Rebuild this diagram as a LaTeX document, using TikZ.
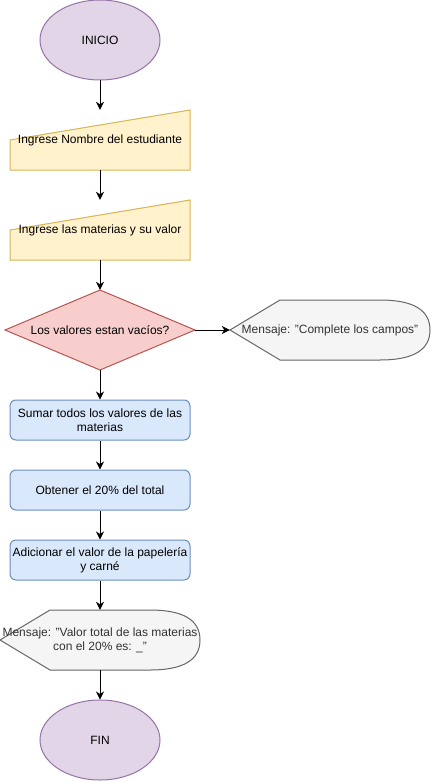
\documentclass[tikz,border=0pt]{standalone}
\usepackage{fontspec}
\setmainfont{Liberation Sans}
\usetikzlibrary{shapes.geometric,arrows.meta}

\definecolor{termfill}{HTML}{E1D5E7}
\definecolor{termline}{HTML}{9673A6}
\definecolor{infill}{HTML}{FFF2CC}
\definecolor{inline}{HTML}{D6B656}
\definecolor{decfill}{HTML}{F8CECC}
\definecolor{decline}{HTML}{B85450}
\definecolor{procfill}{HTML}{DAE8FC}
\definecolor{procline}{HTML}{6C8EBF}
\definecolor{dispfill}{HTML}{F5F5F5}
\definecolor{displine}{HTML}{666666}
\definecolor{disptext}{HTML}{333333}

\begin{document}
\begin{tikzpicture}[x=1pt,y=-1pt,
  lbl/.style={font=\fontsize{12}{14}\selectfont, align=center, inner sep=0pt},
  term/.style={lbl, ellipse, draw=termline, fill=termfill, line width=1pt,
    minimum width=120pt, minimum height=80pt},
  frame/.style={lbl, rectangle, minimum width=#1},
  proc/.style={lbl, rectangle, rounded corners=6pt, draw=procline, fill=procfill,
    line width=1pt, minimum width=180pt, minimum height=40pt},
  inshape/.style={draw=inline, fill=infill, line width=1pt},
  decshape/.style={draw=decline, fill=decfill, line width=1pt},
  dispshape/.style={draw=displine, fill=dispfill, line width=1pt},
  flow/.style={draw=black, line width=1pt, -{Stealth[length=8pt,width=8pt,inset=2.5pt]}}
]
\useasboundingbox (0,0) rectangle (431,781);

% start
\node[term] (ini) at (100,40) {INICIO};

% manual inputs
\path[inshape] (10,140) -- (190,110) -- (190,170) -- (10,170) -- cycle;
\node[frame=180pt, minimum height=60pt] (in1) at (100,140) {Ingrese Nombre del estudiante};
\path[inshape] (10,230) -- (190,200) -- (190,260) -- (10,260) -- cycle;
\node[frame=180pt, minimum height=60pt] (in2) at (100,230) {Ingrese las materias y su valor};

% decision
\path[decshape] (5,330) -- (100,290) -- (195,330) -- (100,370) -- cycle;
\node[frame=190pt, minimum height=80pt] (cond) at (100,330) {Los valores estan vacíos?};

% display: empty fields
\path[dispshape] (230,330) -- (280,300) -- (380,300)
  .. controls (413.3,300) and (430,310) .. (430,330)
  .. controls (430,350) and (413.3,360) .. (380,360) -- (280,360) -- cycle;
\node[frame=200pt, minimum height=60pt, text=disptext] (msg1) at (330,330) {Mensaje: "Complete los campos"};

% processes
\node[proc] (p1) at (100,420) {Sumar todos los valores de las\\materias};
\node[proc] (p2) at (100,490) {Obtener el 20\% del total};
\node[proc] (p3) at (100,560) {Adicionar el valor de la papelería\\y carné};

% display: result
\path[dispshape] (0,640) -- (50,610) -- (150,610)
  .. controls (183.3,610) and (200,620) .. (200,640)
  .. controls (200,660) and (183.3,670) .. (150,670) -- (50,670) -- cycle;
\node[frame=200pt, minimum height=60pt, text=disptext] (msg2) at (100,640) {Mensaje: "Valor total de las materias\\con el 20\% es: \_"};

% end
\node[term] (fin) at (100,740) {FIN};

% connectors
\draw[flow] (ini.south) -- (in1.north);
\draw[flow] (in1.south) -- (in2.north);
\draw[flow] (in2.south) -- (cond.north);
\draw[flow] (cond.east) -- (msg1.west);
\draw[flow] (cond.south) -- (p1.north);
\draw[flow] (p1.south) -- (p2.north);
\draw[flow] (p2.south) -- (p3.north);
\draw[flow] (p3.south) -- (msg2.north);
\draw[flow] (msg2.south) -- (fin.north);
\end{tikzpicture}
\end{document}
